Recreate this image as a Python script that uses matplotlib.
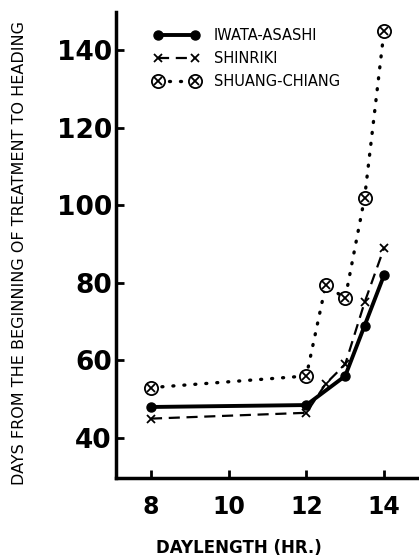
import matplotlib
matplotlib.use("Agg")
import matplotlib.pyplot as plt

# Data
iwata_x = [8, 12, 13, 13.5, 14]
iwata_y = [48, 48.5, 56, 69, 82]
shinriki_x = [8, 12, 12.5, 13, 13.5, 14]
shinriki_y = [45, 46.5, 54, 59, 75, 89]
shuang_x = [8, 12, 12.5, 13, 13.5, 14]
shuang_y = [53, 56, 79.5, 76, 102, 145]
xticks = [8, 10, 12, 14]
yticks = [40, 60, 80, 100, 120, 140]
labels = ["IWATA-ASASHI", "SHINRIKI", "SHUANG-CHIANG"]

plt.rcParams['font.family'] = ['DejaVu Sans']

fig = plt.figure(figsize=(4.19, 5.57), dpi=100)
ax = fig.add_axes([116/419, 1-478/557, 1-116/419, (478-12)/557])

l1, = ax.plot(iwata_x, iwata_y, '-', color='black', lw=2.8, marker='o', ms=6.5)
l2, = ax.plot(shinriki_x, shinriki_y, '--', color='black', lw=1.6, dashes=(5, 3),
              marker='x', ms=5.5, mew=1.3)
l3, = ax.plot(shuang_x, shuang_y, ':', color='black', lw=2.4, dashes=(0.3, 3.0),
              dash_capstyle='round', marker='o', ms=9.5, mfc='white', mec='black', mew=1.3)
l3b, = ax.plot(shuang_x, shuang_y, linestyle='none', color='black',
               marker='x', ms=5.5, mew=1.3)

ax.set_xlim(7.10, 14.90)
ax.set_ylim(29.68, 149.9)
ax.set_xticks(xticks)
ax.set_yticks(yticks)
ax.set_xticklabels([str(v) for v in xticks], fontsize=17, fontweight='bold')
ax.set_yticklabels([str(v) for v in yticks], fontsize=19, fontweight='bold')

for s in ['top', 'right']:
    ax.spines[s].set_visible(False)
for s in ['left', 'bottom']:
    ax.spines[s].set_linewidth(2.5)
ax.tick_params(axis='both', direction='in', length=6, width=2)
ax.tick_params(axis='x', pad=12)
ax.tick_params(axis='y', pad=3)

leg = ax.legend([l1, l2, (l3, l3b)], labels, loc='upper left',
                bbox_to_anchor=(0.125, 0.965), frameon=False, fontsize=10.5,
                handlelength=3.1, handletextpad=1.0, labelspacing=0.55,
                borderaxespad=0, borderpad=0, numpoints=2)

fig.text(20/419, 1-253/557, "DAYS FROM THE BEGINNING OF TREATMENT TO HEADING",
         rotation=90, ha='center', va='center', fontsize=11.5)
fig.text(239/419, 1-548/557, "DAYLENGTH (HR.)", ha='center', va='center',
         fontsize=12, fontweight='bold')

fig.savefig("out.png", dpi=100, facecolor='white')
